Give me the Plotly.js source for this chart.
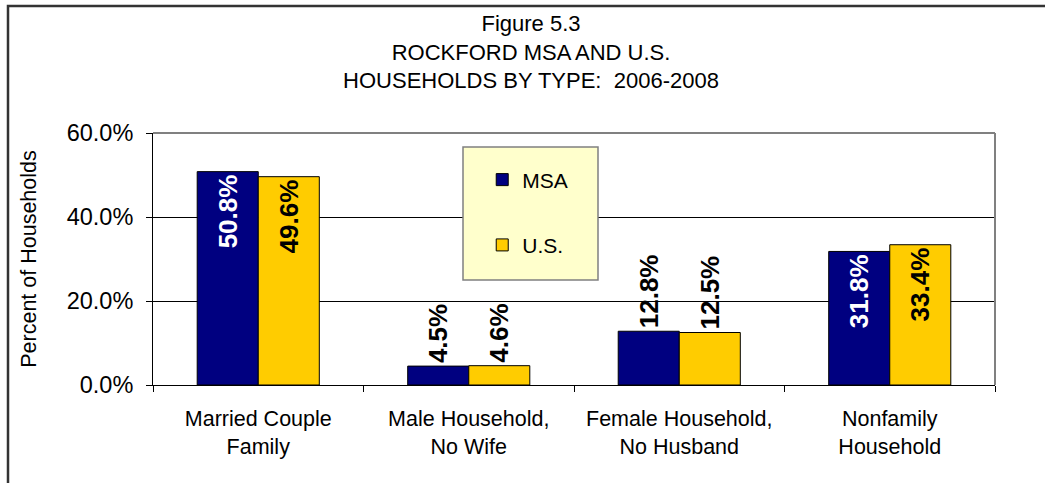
<!DOCTYPE html>
<html>
<head>
<meta charset="utf-8">
<script src="https://cdn.plot.ly/plotly-3.0.1.min.js"></script>
<style>
  html, body { margin: 0; padding: 0; background: #ffffff; }
  #chart { width: 1045px; height: 483px; }
</style>
</head>
<body>
<div id="chart"></div>
<script>
const categories = ["Married Couple<br>Family", "Male Household,<br>No Wife", "Female Household,<br>No Husband", "Nonfamily<br>Household"];
const msaValues = [50.8, 4.5, 12.8, 31.8];
const usValues = [49.6, 4.6, 12.5, 33.4];
const yTickValues = [0, 20, 40, 60];
const yTickLabels = ["0.0%", "20.0%", "40.0%", "60.0%"];
const labelPositions = ["inside", "outside", "outside", "inside"];

const FONT = "Liberation Sans, Arial, sans-serif";

const msa = {
  type: "bar", name: "MSA", x: categories, y: msaValues,
  legendgroup: "a",
  marker: { color: "#000080", line: { color: "#000000", width: 1 } },
  texttemplate: "%{y:.1f}%", textposition: labelPositions, textangle: -90,
  insidetextanchor: "end", constraintext: "none", cliponaxis: false,
  insidetextfont: { family: FONT, size: 26, color: "#ffffff", weight: "bold" },
  outsidetextfont: { family: FONT, size: 26, color: "#000000", weight: "bold" },
  hoverinfo: "skip"
};
const us = {
  type: "bar", name: "U.S.", x: categories, y: usValues,
  legendgroup: "b",
  marker: { color: "#FFCC00", line: { color: "#000000", width: 1 } },
  texttemplate: "%{y:.1f}%", textposition: labelPositions, textangle: -90,
  insidetextanchor: "end", constraintext: "none", cliponaxis: false,
  insidetextfont: { family: FONT, size: 26, color: "#000000", weight: "bold" },
  outsidetextfont: { family: FONT, size: 26, color: "#000000", weight: "bold" },
  hoverinfo: "skip"
};

const layout = {
  width: 1045, height: 483,
  margin: { l: 153, r: 50, t: 133, b: 98, pad: 0 },
  paper_bgcolor: "#ffffff", plot_bgcolor: "#ffffff",
  font: { family: FONT, color: "#000000", size: 21 },
  title: {
    text: "Figure 5.3<br>ROCKFORD MSA AND U.S.<br>HOUSEHOLDS BY TYPE:  2006-2008",
    font: { family: FONT, size: 22, color: "#000000" },
    xref: "container", x: 531 / 1045, xanchor: "center",
    yref: "container", y: 1 - 31 / 483, yanchor: "top"
  },
  barmode: "group", bargap: 0.42, bargroupgap: 0,
  showlegend: true,
  legend: {
    x: 0.391, y: 0.895, xanchor: "left", yanchor: "top",
    bgcolor: "rgba(0,0,0,0)", borderwidth: 0,
    traceorder: "grouped", tracegroupgap: 35,
    font: { family: FONT, size: 21, color: "#000000" }
  },
  xaxis: {
    type: "category", showline: true, linecolor: "#000000", linewidth: 1,
    ticks: "outside", tickson: "boundaries", ticklen: 6, tickcolor: "#000000",
    showgrid: false, tickfont: { family: FONT, size: 21.5 }, ticklabelstandoff: 14,
    fixedrange: true
  },
  yaxis: {
    range: [0, 60], tickvals: yTickValues, ticktext: yTickLabels,
    showline: true, linecolor: "#000000", linewidth: 1,
    ticks: "outside", ticklen: 6, tickcolor: "#000000",
    showgrid: true, gridcolor: "#000000", gridwidth: 1, zeroline: false,
    tickfont: { family: FONT, size: 23.5 }, ticklabelstandoff: 8,
    title: { text: "Percent of Households", font: { family: FONT, size: 21.5 }, standoff: 24 },
    fixedrange: true
  },
  shapes: [
    { type: "line", xref: "paper", yref: "paper", x0: 0, x1: 1, y0: 1, y1: 1, line: { color: "#808080", width: 2 }, layer: "above" },
    { type: "line", xref: "paper", yref: "paper", x0: 1, x1: 1, y0: 0, y1: 1, line: { color: "#808080", width: 2 }, layer: "above" },
    { type: "rect", xref: "paper", yref: "paper", x0: (463 - 153) / 842, x1: (598 - 153) / 842, y0: (385 - 280) / 252, y1: (385 - 147) / 252,
      fillcolor: "#FFFFCC", line: { color: "#808080", width: 1.5 }, layer: "above" },
    { type: "rect", xref: "paper", yref: "paper", x0: (8 - 153) / 842, x1: (1060 - 153) / 842, y0: (385 - 500) / 252, y1: (385 - 6) / 252,
      fillcolor: "rgba(0,0,0,0)", line: { color: "#333333", width: 2.5 }, layer: "above" }
  ]
};

Plotly.newPlot("chart", [msa, us], layout, { displayModeBar: false, staticPlot: true });
</script>
</body>
</html>
